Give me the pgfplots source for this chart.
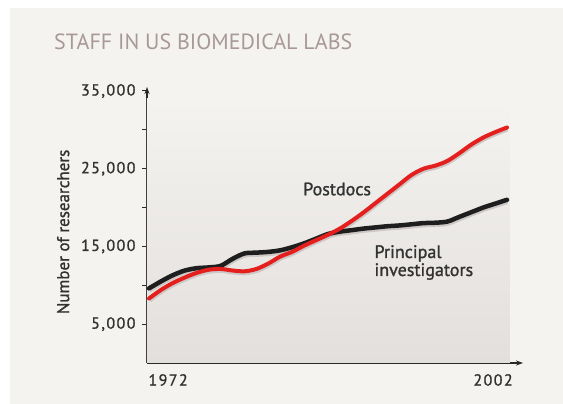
\documentclass[border=0pt]{standalone}
\usepackage{pgfplots}
\pgfplotsset{compat=1.18}
\usepackage{fontspec}
\setmainfont{PT Sans}
\newfontfamily\lab[FakeBold=1.2]{PT Sans}
\newfontfamily\labsp[FakeBold=1.2,LetterSpace=9]{PT Sans}
\usetikzlibrary{arrows.meta}
\definecolor{bgpanel}{RGB}{244,243,239}
\definecolor{plotbot}{RGB}{227,223,221}
\definecolor{titlec}{RGB}{168,152,152}
\definecolor{pdred}{RGB}{228,32,30}
\definecolor{piblack}{RGB}{30,30,30}
\definecolor{axc}{RGB}{40,40,40}
\definecolor{txt}{RGB}{50,50,50}
\definecolor{shadowc}{RGB}{205,200,198}

\pgfplotstableread{
year pi
1972 9600
1973 10500
1974 11300
1975 11900
1976 12200
1977 12300
1978 12500
1979 13400
1980 14100
1981 14200
1982 14300
1983 14500
1984 14900
1985 15400
1986 16000
1987 16600
1988 16900
1989 17100
1990 17300
1991 17450
1992 17600
1993 17700
1994 17850
1995 18000
1996 18050
1997 18200
1998 18800
1999 19400
2000 20000
2001 20500
2002 21000
}\pitable

\pgfplotstableread{
year pd
1972 8300
1973 9400
1974 10300
1975 11000
1976 11600
1977 12000
1978 12100
1979 11900
1980 11800
1981 12100
1982 12800
1983 13700
1984 14300
1985 15100
1986 15800
1987 16500
1988 17300
1989 18300
1990 19400
1991 20600
1992 21800
1993 23000
1994 24200
1995 25000
1996 25400
1997 26000
1998 27000
1999 28100
2000 29000
2001 29700
2002 30300
}\pdtable

\begin{document}
\begin{tikzpicture}
\useasboundingbox (0pt,0pt) rectangle (563pt,404pt);
\fill[white] (0pt,0pt) rectangle (563pt,404pt);
\fill[bgpanel] (10pt,0pt) rectangle (563pt,396pt);
\node[anchor=west, text=titlec, font=\fontsize{22}{24}\selectfont, inner sep=0pt] at (54pt,362pt) {STAFF IN US BIOMEDICAL LABS};
\begin{axis}[
  at={(147pt,41pt)}, anchor=south west,
  scale only axis, width=376pt, height=276pt,
  xmin=1971.83, xmax=2003.34,
  ymin=0, ymax=35515,
  axis x line=bottom, axis y line=left,
  axis line style={draw=axc, line width=1.1pt, -{Stealth[length=7pt,width=5pt]}},
  xtick=\empty,
  ytick={5000,15000,25000,35000},
  minor ytick={10000,20000,30000},
  tick align=outside,
  major tick length=5pt, minor tick length=5pt,
  every tick/.style={draw=axc, line width=1pt},
  minor tick style={draw=axc, line width=1pt},
  yticklabel style={font=\labsp\fontsize{16}{17}\selectfont, text=txt, xshift=-3pt},
  /pgf/number format/assume math mode=true,
  /pgf/number format/1000 sep={,},
  scaled y ticks=false,
  ylabel={Number of researchers},
  ylabel style={at={(axis description cs:-0.223,0.475)}, anchor=center, font=\lab\fontsize{17}{18}\selectfont, text=txt},
  clip=false,
]
\fill[top color=bgpanel, bottom color=plotbot] (axis cs:1971.83,0) rectangle (axis cs:2002.25,33980);
\addplot[shadowc, line width=4.5pt, smooth, shift={(0.5pt,-2pt)}] table[x=year,y=pi] {\pitable};
\addplot[shadowc, line width=4pt, smooth, shift={(0.5pt,-2pt)}] table[x=year,y=pd] {\pdtable};
\addplot[piblack, line width=4.5pt, smooth, line cap=round] table[x=year,y=pi] {\pitable};
\addplot[pdred, line width=4pt, smooth, line cap=round] table[x=year,y=pd] {\pdtable};
\node[font=\lab\fontsize{18}{19}\selectfont, text=txt] at (axis cs:1987.76,22390) {Postdocs};
\node[font=\lab\fontsize{18}{18}\selectfont, text=txt, anchor=west, align=left] at (axis cs:1990.6,12930) {Principal\\investigators};
\node[font=\labsp\fontsize{16}{17}\selectfont, text=txt] at (axis cs:1973.6,0) [yshift=-17pt] {1972};
\node[font=\labsp\fontsize{16}{17}\selectfont, text=txt] at (axis cs:2000.83,0) [yshift=-17pt] {2002};
\end{axis}
\end{tikzpicture}
\end{document}
